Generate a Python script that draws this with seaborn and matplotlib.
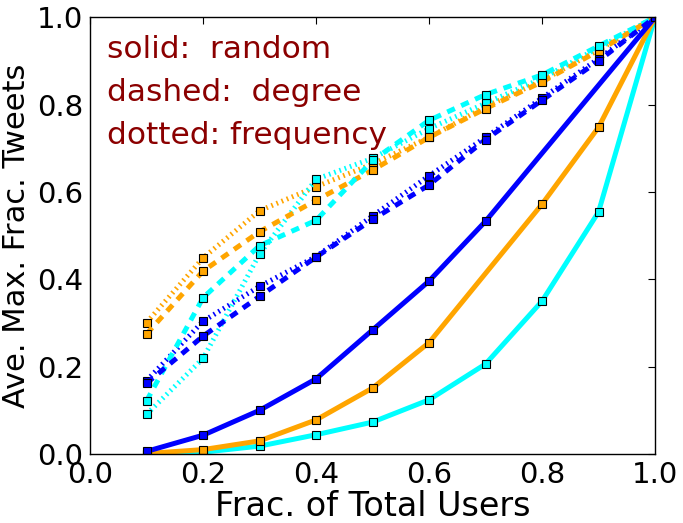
import matplotlib
matplotlib.use("Agg")
import matplotlib.pyplot as plt
import seaborn as sns
import pandas as pd

x_all = [0.1, 0.2, 0.3, 0.4, 0.5, 0.6, 0.7, 0.8, 0.9, 1.0]

# random (solid)
x_rand_blue = [0.1, 0.2, 0.3, 0.4, 0.5, 0.6, 0.7, 1.0]
rand_blue = [0.006, 0.043, 0.100, 0.172, 0.284, 0.396, 0.533, 1.0]
x_rand_orange = [0.1, 0.2, 0.3, 0.4, 0.5, 0.6, 0.8, 0.9, 1.0]
rand_orange = [0.001, 0.010, 0.030, 0.078, 0.151, 0.255, 0.572, 0.748, 1.0]
rand_cyan = [0.000, 0.004, 0.018, 0.044, 0.073, 0.124, 0.206, 0.350, 0.554, 1.0]

# degree (dashed)
deg_blue = [0.162, 0.270, 0.361, 0.451, 0.537, 0.616, 0.720, 0.810, 0.900, 1.0]
deg_orange = [0.275, 0.419, 0.509, 0.581, 0.650, 0.725, 0.791, 0.852, 0.923, 1.0]
deg_cyan = [0.122, 0.358, 0.477, 0.535, 0.672, 0.764, 0.823, 0.868, 0.934, 1.0]

# frequency (dotted)
freq_blue = [0.168, 0.304, 0.384, 0.452, 0.545, 0.637, 0.725, 0.815, 0.905, 1.0]
freq_orange = [0.301, 0.449, 0.557, 0.612, 0.664, 0.725, 0.795, 0.855, 0.925, 1.0]
freq_cyan = [0.091, 0.219, 0.458, 0.629, 0.677, 0.745, 0.803, 0.860, 0.930, 1.0]

x_ticks = [0.0, 0.2, 0.4, 0.6, 0.8, 1.0]
tick_labels = ["0.0", "0.2", "0.4", "0.6", "0.8", "1.0"]
annot = ["solid:  random", "dashed:  degree", "dotted: frequency"]

sns.set_style("white")
plt.rcParams['font.family'] = ['DejaVu Sans']
plt.rcParams['lines.scale_dashes'] = False
plt.rcParams['text.color'] = 'black'
plt.rcParams['axes.labelcolor'] = 'black'

fig = plt.figure(figsize=(6.83, 5.23), dpi=100)
ax = fig.add_axes([0.132, 0.132, 0.827, 0.835])

DOT = (0, (1.2, 2.8))
DASH = (0, (6, 5))
series = [
    (x_all, freq_orange, "orange", DOT),
    (x_all, freq_cyan, "cyan", DOT),
    (x_all, freq_blue, "blue", DOT),
    (x_all, deg_orange, "orange", DASH),
    (x_all, deg_cyan, "cyan", DASH),
    (x_all, deg_blue, "blue", DASH),
    (x_all, rand_cyan, "cyan", "-"),
    (x_rand_orange, rand_orange, "orange", "-"),
    (x_rand_blue, rand_blue, "blue", "-"),
]
for xs, ys, col, ls in series:
    df = pd.DataFrame({"x": xs, "y": ys})
    sns.lineplot(data=df, x="x", y="y", ax=ax, color=col, linestyle=ls,
                 linewidth=3.6, marker="s", markersize=6,
                 markerfacecolor=col, markeredgecolor="black",
                 markeredgewidth=0.8, sort=False, estimator=None,
                 dash_capstyle="butt")

ax.set_xlim(0, 1)
ax.set_ylim(0, 1)
ax.set_xticks(x_ticks)
ax.set_xticklabels(tick_labels)
ax.set_yticks(x_ticks)
ax.set_yticklabels(tick_labels)
ax.tick_params(direction="in", length=5, width=0.8, top=True, right=True,
               labelsize=21, colors="black", labelcolor="black", pad=5)
for s in ax.spines.values():
    s.set_color("black")
    s.set_linewidth(1)
ax.set_xlabel("Frac. of Total Users", fontsize=24, labelpad=1, color="black")
ax.set_ylabel("Ave. Max. Frac. Tweets", fontsize=22, labelpad=4, color="black")

for t, yy in zip(annot, [0.927, 0.828, 0.730]):
    ax.text(0.03, yy, t, color="darkred", fontsize=22.5, va="center", ha="left")

fig.savefig("out.png", dpi=100)
